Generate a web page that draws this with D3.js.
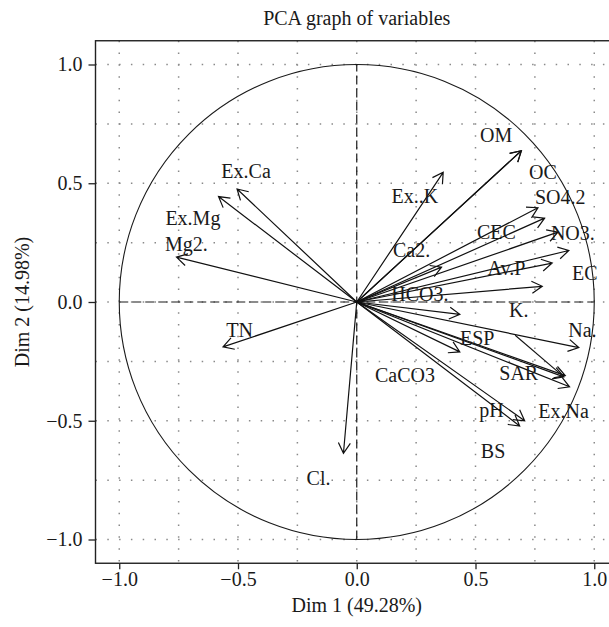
<!DOCTYPE html>
<html lang="en">
<head>
<meta charset="UTF-8">
<title>PCA graph of variables</title>
<script src="https://d3js.org/d3.v7.min.js"></script>
<style>
    body { margin: 0; background: #fff; }
    svg { display: block; font-family: "Liberation Serif", "Times New Roman", serif; }
</style>
</head>
<body>
<svg width="609" height="627"></svg>
<script>
    // variable coordinates on the first two dimensions
    var variables = ["OM", "OC", "Ex..K", "SO4.2", "CEC", "NO3.", "EC", "Av.P", "Ca2.", "K.",
        "HCO3.", "Na.", "CaCO3", "SAR", "ESP", "Ex.Na", "pH", "BS",
        "Cl.", "TN", "Mg2.", "Ex.Mg", "Ex.Ca"];
    var dim1 = [0.693, 0.693, 0.364, 0.763, 0.791, 0.847, 0.893, 0.823, 0.357, 0.781,
        0.434, 0.935, 0.434, 0.878, 0.872, 0.896, 0.707, 0.686,
        -0.056, -0.563, -0.759, -0.582, -0.504];
    var dim2 = [0.637, 0.637, 0.546, 0.397, 0.353, 0.294, 0.217, 0.164, 0.147, 0.066,
        -0.052, -0.192, -0.210, -0.310, -0.315, -0.357, -0.500, -0.522,
        -0.637, -0.189, 0.189, 0.444, 0.476];
    // where the (moved) labels sit, in the same units
    var labelDim1 = [0.587, 0.784, 0.245, 0.857, 0.588, 0.910, 0.960, 0.630, 0.231, 0.682,
        0.266, 0.950, 0.203, 0.682, 0.507, 0.871, 0.567, 0.574,
        -0.161, -0.493, -0.717, -0.690, -0.466];
    var labelDim2 = [0.705, 0.549, 0.445, 0.441, 0.294, 0.292, 0.122, 0.143, 0.217, -0.035,
        0.032, -0.119, -0.308, -0.301, -0.150, -0.458, -0.455, -0.626,
        -0.742, -0.116, 0.243, 0.355, 0.553];

    var ticks = [-1, -0.5, 0, 0.5, 1];
    var gridValues = [-1, -0.75, -0.5, -0.25, 0, 0.25, 0.5, 0.75, 1];
    var xTitle = "Dim 1 (49.28%)",
        yTitle = "Dim 2 (14.98%)",
        title = "PCA graph of variables";

    var svg = d3.select("svg"),
        plotLeft = 95.5,
        plotTop = 40.75,
        size = 522.5,
        fontSize = 20;

    var x = d3.scaleLinear().domain([-1.1, 1.1]).range([plotLeft, plotLeft + size]);
    var y = d3.scaleLinear().domain([-1.1, 1.1]).range([plotTop + size, plotTop]);

    var g = svg.append("g");

    // dotted grid
    g.append("g")
        .selectAll("line")
        .data(gridValues)
        .enter().append("line")
        .attr("x1", function(d) { return x(d); })
        .attr("x2", function(d) { return x(d); })
        .attr("y1", plotTop)
        .attr("y2", plotTop + size)
        .attr("stroke", "#8a8a8a")
        .attr("stroke-width", 1.5)
        .attr("stroke-dasharray", "1.5,10.3");

    g.append("g")
        .selectAll("line")
        .data(gridValues)
        .enter().append("line")
        .attr("y1", function(d) { return y(d); })
        .attr("y2", function(d) { return y(d); })
        .attr("x1", plotLeft)
        .attr("x2", plotLeft + size)
        .attr("stroke", "#8a8a8a")
        .attr("stroke-width", 1.5)
        .attr("stroke-dasharray", "1.5,10.3");

    // unit circle and dashed axes
    g.append("circle")
        .attr("cx", x(0))
        .attr("cy", y(0))
        .attr("r", x(1) - x(0))
        .attr("fill", "none")
        .attr("stroke", "#1a1a1a")
        .attr("stroke-width", 1.1);

    g.append("line")
        .attr("x1", x(-1)).attr("x2", x(1))
        .attr("y1", y(0)).attr("y2", y(0))
        .attr("stroke", "#1a1a1a")
        .attr("stroke-width", 1.2)
        .attr("stroke-dasharray", "9,4");

    g.append("line")
        .attr("x1", x(0)).attr("x2", x(0))
        .attr("y1", y(-1)).attr("y2", y(1))
        .attr("stroke", "#1a1a1a")
        .attr("stroke-width", 1.2)
        .attr("stroke-dasharray", "9,4");

    // arrows
    var headLen = 12,
        headAngle = Math.PI / 6;

    var data = variables.map(function(name, i) {
        return { name: name, d1: dim1[i], d2: dim2[i], l1: labelDim1[i], l2: labelDim2[i] };
    });

    g.append("g")
        .attr("fill", "none")
        .attr("stroke", "#111")
        .attr("stroke-width", 1.2)
        .selectAll("path")
        .data(data)
        .enter().append("path")
        .attr("d", function(d) {
            var x0 = x(0), y0 = y(0), x1 = x(d.d1), y1 = y(d.d2);
            var a = Math.atan2(y1 - y0, x1 - x0);
            var p = d3.path();
            p.moveTo(x0, y0);
            p.lineTo(x1, y1);
            p.moveTo(x1 - headLen * Math.cos(a - headAngle), y1 - headLen * Math.sin(a - headAngle));
            p.lineTo(x1, y1);
            p.lineTo(x1 - headLen * Math.cos(a + headAngle), y1 - headLen * Math.sin(a + headAngle));
            return p.toString();
        });

    // segment from the moved ESP label back to its arrow
    var esp = data.filter(function(d) { return d.name == "ESP"; })[0];
    g.append("line")
        .attr("x1", x(esp.l1 + 0.16))
        .attr("y1", y(esp.l2 + 0.01))
        .attr("x2", x(esp.d1))
        .attr("y2", y(esp.d2))
        .attr("stroke", "#111")
        .attr("stroke-width", 1.1);

    g.append("g")
        .attr("text-anchor", "middle")
        .attr("font-size", fontSize)
        .attr("fill", "#1a1a1a")
        .selectAll("text")
        .data(data)
        .enter().append("text")
        .attr("x", function(d) { return x(d.l1); })
        .attr("y", function(d) { return y(d.l2); })
        .attr("dy", "0.35em")
        .text(function(d) { return d.name; });

    // box
    svg.append("rect")
        .attr("x", plotLeft)
        .attr("y", plotTop)
        .attr("width", size)
        .attr("height", size)
        .attr("fill", "none")
        .attr("stroke", "#222")
        .attr("stroke-width", 1.4);

    // axes
    var fmt = d3.format(".1f");

    var xAxis = svg.append("g")
        .attr("transform", "translate(0," + (plotTop + size) + ")")
        .call(d3.axisBottom(x).tickValues(ticks).tickSize(6).tickPadding(3).tickFormat(fmt));

    var yAxis = svg.append("g")
        .attr("transform", "translate(" + plotLeft + ",0)")
        .call(d3.axisLeft(y).tickValues(ticks).tickSize(7).tickPadding(6).tickFormat(fmt));

    [xAxis, yAxis].forEach(function(ax) {
        ax.select(".domain").remove();
        ax.selectAll("line").attr("stroke", "#222").attr("stroke-width", 1.3);
        ax.selectAll("text")
            .attr("font-family", "Liberation Serif, Times New Roman, serif")
            .attr("font-size", fontSize)
            .attr("fill", "#1a1a1a");
    });

    svg.append("text")
        .attr("x", x(0))
        .attr("y", 612)
        .attr("text-anchor", "middle")
        .attr("font-size", fontSize)
        .attr("fill", "#1a1a1a")
        .text(xTitle);

    svg.append("text")
        .attr("transform", "translate(29," + y(0) + ")rotate(-90)")
        .attr("text-anchor", "middle")
        .attr("font-size", fontSize)
        .attr("fill", "#1a1a1a")
        .text(yTitle);

    svg.append("text")
        .attr("x", x(0))
        .attr("y", 25)
        .attr("text-anchor", "middle")
        .attr("font-size", fontSize)
        .attr("fill", "#1a1a1a")
        .text(title);
</script>
</body>
</html>
